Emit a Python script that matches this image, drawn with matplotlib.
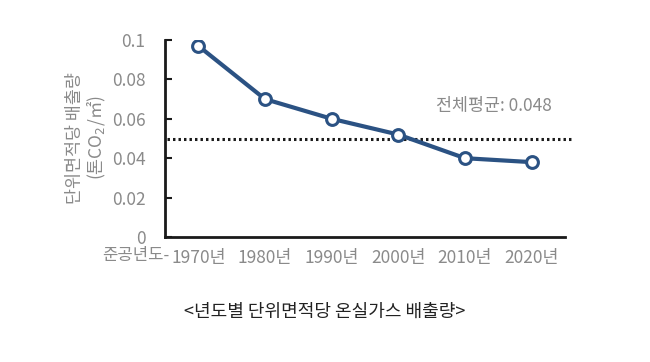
import matplotlib
matplotlib.use("Agg")
import matplotlib.pyplot as plt

plt.rcParams['font.family'] = ['Noto Sans CJK KR', 'DejaVu Sans']

years = ['1970년', '1980년', '1990년', '2000년', '2010년', '2020년']
emissions = [0.097, 0.070, 0.060, 0.052, 0.040, 0.038]
avg_line = 0.050
avg_label = '전체평균: 0.048'
yticks = [0, 0.02, 0.04, 0.06, 0.08, 0.1]
ytick_labels = ['0', '0.02', '0.04', '0.06', '0.08', '0.1']

gray = '#8a8a8a'
blue = '#2b5283'

fig = plt.figure(figsize=(6.5, 3.62), dpi=100)
ax = fig.add_axes([165/650, 1-237/362, 400/650, 197/362])

x = list(range(len(years)))
ax.plot(x, emissions, color=blue, lw=3, marker='o', ms=8.5,
        markerfacecolor='white', markeredgecolor=blue, markeredgewidth=2.2, zorder=3)
ax.plot([-0.47, 5.62], [avg_line, avg_line], color='#1a1a1a', lw=2.2,
        linestyle=(0, (0.8, 1.0)), clip_on=False, zorder=2)

ax.set_xlim(-0.5, 5.5)
ax.set_ylim(0, 0.1)
ax.set_xticks(x)
ax.set_xticklabels(years)
ax.set_yticks(yticks)
ax.set_yticklabels(ytick_labels)
ax.tick_params(axis='x', length=0, pad=9, labelsize=12.5, labelcolor=gray)
ax.tick_params(axis='y', direction='in', length=5, width=1.5, pad=14,
               labelsize=12.5, labelcolor=gray, color='#1a1a1a')
for s in ['top', 'right']:
    ax.spines[s].set_visible(False)
for s in ['left', 'bottom']:
    ax.spines[s].set_linewidth(2)
    ax.spines[s].set_color('#1a1a1a')

ax.annotate('준공년도-', xy=(-0.44, 0), xycoords=('data', 'axes fraction'),
            xytext=(0, -7.5), textcoords='offset points', ha='right', va='top',
            fontsize=12, color=gray)

ax.text(5.3, 0.0665, avg_label, ha='right', va='center', fontsize=12.5, color=gray)

fig.text(87/650, 1-138/362, '단위면적당 배출량\n(톤CO$_2$/㎡)', rotation=90,
         ha='center', va='center', fontsize=12.5, color=gray, linespacing=1.05,
         multialignment='center')

fig.text(325/650, 1-312/362, '<년도별 단위면적당 온실가스 배출량>', ha='center',
         va='center', fontsize=13, color='#222222')

fig.savefig('out.png', dpi=100)
